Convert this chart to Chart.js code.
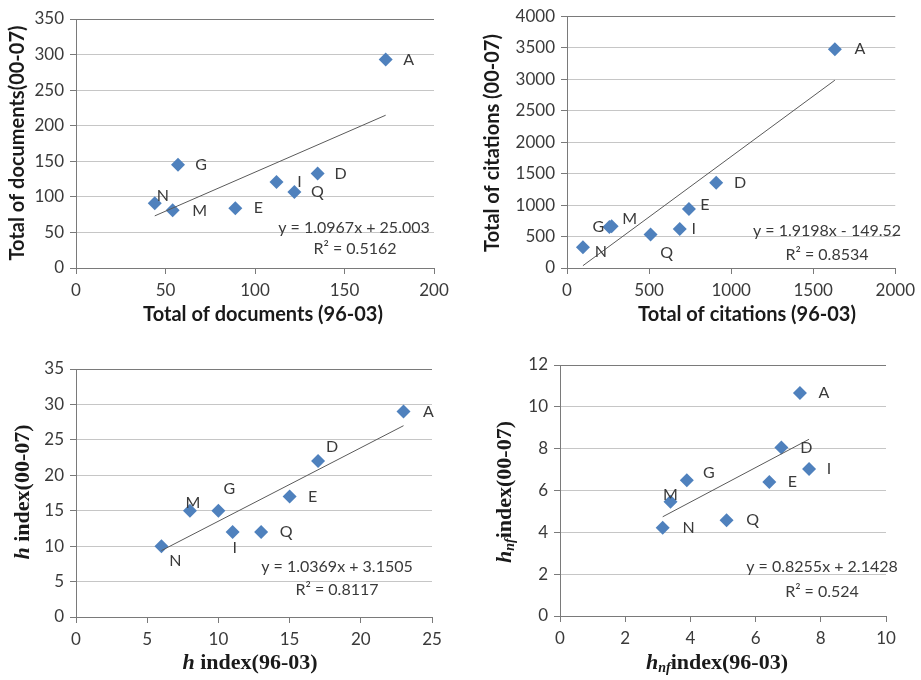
<!DOCTYPE html>
<html>
<head>
<meta charset="utf-8">
<script src="https://cdn.jsdelivr.net/npm/chart.js@4.4.1/dist/chart.umd.min.js"></script>
<style>
  body { margin: 0; background: #fff; }
  #rahmen { position: relative; width: 921px; height: 680px; }
  canvas { position: absolute; }
</style>
</head>
<body>
<div id="rahmen">
  <canvas id="canvasObenLinks" width="460" height="330" style="left:0;top:0"></canvas>
  <canvas id="canvasObenRechts" width="461" height="330" style="left:460px;top:0"></canvas>
  <canvas id="canvasUntenLinks" width="460" height="350" style="left:0;top:330px"></canvas>
  <canvas id="canvasUntenRechts" width="461" height="350" style="left:460px;top:330px"></canvas>
</div>
<script>
// Punktnamen, in allen vier Diagrammen gleiche Reihenfolge
const punktNamen = ["A", "D", "E", "G", "I", "M", "N", "Q"];

// Dokumente
const dokumente9603 = [173, 135, 89, 57, 112, 54, 44, 122];
const dokumente0007 = [293, 133, 84, 145, 121, 81, 91, 107];

// Zitationen
const zitationen9603 = [1632, 909, 743, 258, 687, 272, 97, 509];
const zitationen0007 = [3474, 1356, 936, 650, 620, 665, 331, 531];

// h-Index
const hIndex9603 = [23, 17, 15, 10, 11, 8, 6, 13];
const hIndex0007 = [29, 22, 17, 15, 12, 15, 10, 12];

// hnf-Index
const hnfIndex9603 = [7.36, 6.79, 6.42, 3.89, 7.64, 3.39, 3.15, 5.11];
const hnfIndex0007 = [10.66, 8.05, 6.41, 6.49, 7.03, 5.46, 4.22, 4.58];

// Achsenbeschriftungen
const ticksDokumenteX = [0, 50, 100, 150, 200];
const ticksDokumenteY = [0, 50, 100, 150, 200, 250, 300, 350];
const ticksZitationenX = [0, 500, 1000, 1500, 2000];
const ticksZitationenY = [0, 500, 1000, 1500, 2000, 2500, 3000, 3500, 4000];
const ticksHX = [0, 5, 10, 15, 20, 25];
const ticksHY = [0, 5, 10, 15, 20, 25, 30, 35];
const ticksHnfX = [0, 2, 4, 6, 8, 10];
const ticksHnfY = [0, 2, 4, 6, 8, 10, 12];

// Trendlinien (Steigung, Achsenabschnitt, R²)
const steigungen = [1.0967, 1.9198, 1.0369, 0.8255];
const abschnitte = [25.003, -149.52, 3.1505, 2.1428];
const bestimmtheiten = ["0.5162", "0.8534", "0.8117", "0.524"];

Chart.defaults.font.family = "Lato";

const textFarbe = "#3a3a3a";
const achsenFarbe = "#7a7a7a";
const gitterFarbe = "#c6c6c6";

// Plugin: Punktnamen, Gleichung und Achsentitel zeichnen
const beschriftungPlugin = {
  id: "beschriftung",
  afterDatasetsDraw(chart, args, opts) {
    const ctx = chart.ctx;
    const meta = chart.getDatasetMeta(1);
    ctx.save();
    ctx.fillStyle = textFarbe;
    ctx.textBaseline = "middle";
    ctx.textAlign = "center";
    ctx.font = "16px Lato";
    meta.data.forEach(function (pt, i) {
      const off = opts.versatz[punktNamen[i]] || [23, 0];
      ctx.fillText(punktNamen[i], pt.x + off[0], pt.y + off[1]);
    });

    // Gleichung der Trendlinie
    ctx.fillText(opts.gleichung, opts.gleichungPos[0], opts.gleichungPos[1]);
    ctx.fillText(opts.r2, opts.r2Pos[0], opts.r2Pos[1]);

    // Achsentitel
    ctx.fillStyle = "#1a1a1a";
    zeichneTitel(ctx, opts.xTitel, opts.xTitelPos[0], opts.xTitelPos[1], false);
    zeichneTitel(ctx, opts.yTitel, opts.yTitelPos[0], opts.yTitelPos[1], true);
    ctx.restore();
  },
};

function zeichneTitel(ctx, teile, x, y, gedreht) {
  ctx.save();
  ctx.translate(x, y);
  if (gedreht) {
    ctx.rotate(-Math.PI / 2);
  }
  ctx.textAlign = "left";
  ctx.textBaseline = "middle";
  let breite = 0;
  teile.forEach(function (t) {
    ctx.font = t.font;
    breite += ctx.measureText(t.text).width;
  });
  let pos = -breite / 2;
  teile.forEach(function (t) {
    ctx.font = t.font;
    ctx.fillText(t.text, pos, t.dy || 0);
    pos += ctx.measureText(t.text).width;
  });
  ctx.restore();
}

function erstelleStreuDiagramm(canvasID, xWerte, yWerte, xTicks, yTicks, nr, rand, beschriftung) {
  const punkte = xWerte.map(function (x, i) {
    return { x: x, y: yWerte[i] };
  });

  // Trendlinie vom kleinsten zum groessten x
  const xMin = Math.min.apply(null, xWerte);
  const xMax = Math.max.apply(null, xWerte);
  const trend = [
    { x: xMin, y: steigungen[nr] * xMin + abschnitte[nr] },
    { x: xMax, y: steigungen[nr] * xMax + abschnitte[nr] },
  ];

  const vorzeichen = abschnitte[nr] < 0 ? " - " : " + ";
  beschriftung.gleichung = "y = " + steigungen[nr] + "x" + vorzeichen + Math.abs(abschnitte[nr]);
  beschriftung.r2 = "R² = " + bestimmtheiten[nr];

  const yMax = yTicks[yTicks.length - 1];

  const canvas = document.getElementById(canvasID).getContext("2d");
  return new Chart(canvas, {
    type: "scatter",
    data: {
      datasets: [
        {
          type: "line",
          data: trend,
          borderColor: "#5a5a5a",
          borderWidth: 1,
          pointRadius: 0,
          fill: false,
        },
        {
          data: punkte,
          pointStyle: "rectRot",
          pointRadius: 7,
          pointHoverRadius: 7,
          backgroundColor: "#4F81BD",
          borderColor: "#4F81BD",
          borderWidth: 0,
        },
      ],
    },
    options: {
      responsive: false,
      animation: false,
      layout: {
        padding: { top: rand.oben, right: rand.rechts, left: 0, bottom: 0 },
      },
      plugins: {
        legend: { display: false },
        tooltip: { enabled: false },
        beschriftung: beschriftung,
      },
      scales: {
        x: {
          type: "linear",
          min: xTicks[0],
          max: xTicks[xTicks.length - 1],
          ticks: {
            stepSize: xTicks[1] - xTicks[0],
            font: { size: 17 },
            color: textFarbe,
            padding: 6,
            callback: function (v) {
              return String(v);
            },
          },
          grid: {
            drawOnChartArea: false,
            tickLength: 6,
            tickColor: achsenFarbe,
          },
          border: { color: achsenFarbe },
          afterFit: function (s) {
            s.height = rand.unten;
          },
        },
        y: {
          type: "linear",
          min: yTicks[0],
          max: yMax,
          ticks: {
            stepSize: yTicks[1] - yTicks[0],
            font: { size: 17 },
            color: textFarbe,
            padding: 6,
            callback: function (v) {
              return String(v);
            },
          },
          grid: {
            color: function (c) {
              return c.tick && c.tick.value === yMax ? achsenFarbe : gitterFarbe;
            },
            tickLength: 6,
            tickColor: achsenFarbe,
          },
          border: { color: achsenFarbe },
          afterFit: function (s) {
            s.width = rand.links;
          },
        },
      },
    },
    plugins: [beschriftungPlugin],
  });
}

const titelSans = "bold 20px Lato";
const titelSerif = "bold 22px 'Liberation Serif'";
const titelSerifKursiv = "italic bold 22px 'Liberation Serif'";
const titelIndex = "italic bold 14px 'Liberation Serif'";

window.chartObenLinks = erstelleStreuDiagramm(
  "canvasObenLinks", dokumente9603, dokumente0007, ticksDokumenteX, ticksDokumenteY, 0,
  { links: 76, rechts: 26, oben: 19, unten: 62 },
  {
    versatz: { N: [8, -7], M: [27, 0] },
    gleichungPos: [354, 228],
    r2Pos: [355, 249],
    xTitel: [{ text: "Total of documents (96-03)", font: titelSans }],
    xTitelPos: [263, 315],
    yTitel: [{ text: "Total of documents(00-07)", font: titelSans }],
    yTitelPos: [18, 143],
  }
);

window.chartObenRechts = erstelleStreuDiagramm(
  "canvasObenRechts", zitationen9603, zitationen0007, ticksZitationenX, ticksZitationenY, 1,
  { links: 107, rechts: 24, oben: 14, unten: 62 },
  {
    versatz: { A: [25, 0], D: [24, 0], E: [16, -4], I: [14, 0], Q: [16, 18], G: [-11, 0], M: [18, -7], N: [18, 5] },
    gleichungPos: [367, 231],
    r2Pos: [367, 255],
    xTitel: [{ text: "Total of citations (96-03)", font: titelSans }],
    xTitelPos: [287, 315],
    yTitel: [{ text: "Total of citations (00-07)", font: titelSans }],
    yTitelPos: [33, 143],
  }
);

window.chartUntenLinks = erstelleStreuDiagramm(
  "canvasUntenLinks", hIndex9603, hIndex0007, ticksHX, ticksHY, 2,
  { links: 76, rechts: 28, oben: 39, unten: 63 },
  {
    versatz: { A: [25, 0], D: [14, -14], G: [11, -22], M: [3, -8], I: [2, 16], Q: [25, 0], N: [14, 15] },
    gleichungPos: [337, 237],
    r2Pos: [337, 260],
    xTitel: [
      { text: "h", font: titelSerifKursiv },
      { text: " index(96-03)", font: titelSerif },
    ],
    xTitelPos: [250, 333],
    yTitel: [
      { text: "h", font: titelSerifKursiv },
      { text: " index(00-07)", font: titelSerif },
    ],
    yTitelPos: [23, 162],
  }
);

window.chartUntenRechts = erstelleStreuDiagramm(
  "canvasUntenRechts", hnfIndex9603, hnfIndex0007, ticksHnfX, ticksHnfY, 3,
  { links: 100, rechts: 35, oben: 35, unten: 64 },
  {
    versatz: { A: [24, 0], D: [25, 0], I: [20, 0], G: [22, -7], M: [0, -7], Q: [26, 0], N: [26, 0] },
    gleichungPos: [362, 237],
    r2Pos: [362, 262],
    xTitel: [
      { text: "h", font: titelSerifKursiv },
      { text: "nf", font: titelIndex, dy: 5 },
      { text: "index(96-03)", font: titelSerif },
    ],
    xTitelPos: [257, 333],
    yTitel: [
      { text: "h", font: titelSerifKursiv },
      { text: "nf", font: titelIndex, dy: 5 },
      { text: "index(00-07)", font: titelSerif },
    ],
    yTitelPos: [45, 162],
  }
);
</script>
</body>
</html>
